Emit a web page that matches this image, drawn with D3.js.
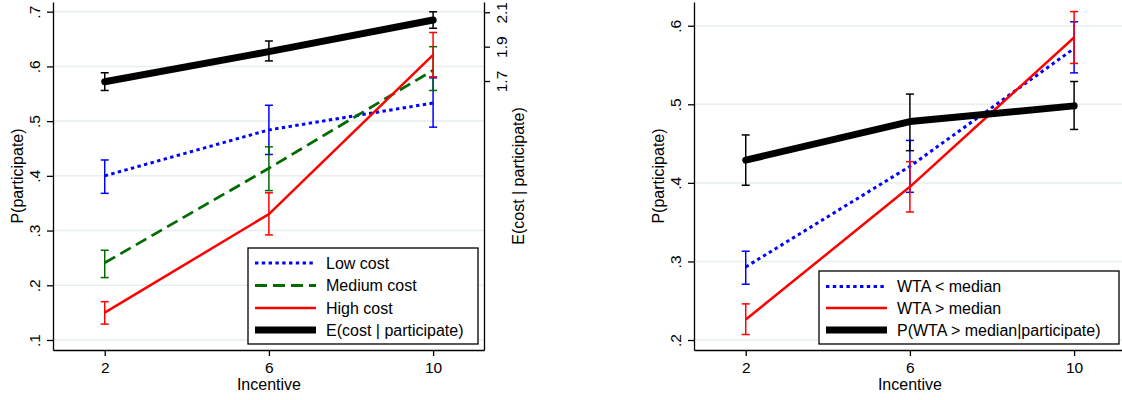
<!DOCTYPE html>
<html>
<head>
<meta charset="utf-8">
<script src="https://cdn.jsdelivr.net/npm/d3@7"></script>
<style>
  body { margin: 0; background: #fff; }
  svg { display: block; font-family: "Liberation Sans", Arial, Helvetica, sans-serif; }
  .axis path, .axis line { stroke: #000; stroke-width: 1.3; }
  .axis text { fill: #000; font-size: 15.5px; font-family: "Liberation Sans", Arial, Helvetica, sans-serif; }
</style>
</head>
<body>
<svg id="chart"></svg>
<script>
// x values (incentive)
const incentives = [2, 6, 10]

// left panel: P(participate) by cost group
const lowCostMean = [0.400, 0.484, 0.533]
const lowCostLo   = [0.368, 0.439, 0.489]
const lowCostHi   = [0.429, 0.529, 0.579]
const medCostMean = [0.241, 0.414, 0.593]
const medCostLo   = [0.214, 0.373, 0.556]
const medCostHi   = [0.264, 0.453, 0.636]
const highCostMean = [0.150, 0.330, 0.621]
const highCostLo   = [0.129, 0.292, 0.581]
const highCostHi   = [0.170, 0.369, 0.662]
// E(cost | participate), right axis
const expCostMean = [1.696, 1.871, 2.055]
const expCostLo   = [1.645, 1.817, 2.007]
const expCostHi   = [1.748, 1.933, 2.103]

// right panel: by WTA
const wtaBelowMean = [0.293, 0.421, 0.571]
const wtaBelowLo   = [0.271, 0.388, 0.540]
const wtaBelowHi   = [0.313, 0.454, 0.605]
const wtaAboveMean = [0.226, 0.395, 0.585]
const wtaAboveLo   = [0.207, 0.363, 0.552]
const wtaAboveHi   = [0.246, 0.427, 0.618]
const pAboveMean = [0.429, 0.478, 0.498]
const pAboveLo   = [0.397, 0.441, 0.468]
const pAboveHi   = [0.461, 0.513, 0.529]

// ticks
const xTicks = [2, 6, 10]
const leftYTicks = [0.1, 0.2, 0.3, 0.4, 0.5, 0.6, 0.7]
const costTicks = [1.7, 1.9, 2.1]
const wtaYTicks = [0.2, 0.3, 0.4, 0.5, 0.6]

const legendLeft = ['Low cost', 'Medium cost', 'High cost', 'E(cost | participate)']
const legendRight = ['WTA < median', 'WTA > median', 'P(WTA > median|participate)']

const W = 1122, H = 400
const svg = d3.select('#chart').attr('width', W).attr('height', H)
svg.append('rect').attr('width', W).attr('height', H).attr('fill', '#fff')

const plotTop = 2, plotBottom = 350
const fmtP = d => d3.format('.1f')(d).replace(/^0\./, '.')

const styles = {
  blue:  { color: '#0000ff', width: 3, dash: '3.4,3.4', cap: 'butt' },
  green: { color: '#006b00', width: 2.8, dash: '12,6', cap: 'butt' },
  red:   { color: '#ff0000', width: 2.5, dash: null, cap: 'butt' },
  black: { color: '#000000', width: 7, dash: null, cap: 'round' }
}

function zip(mean, lo, hi) {
  return incentives.map((x, i) => ({ x: x, m: mean[i], lo: lo[i], hi: hi[i] }))
}

function drawSeries(g, x, y, data, st) {
  g.append('path')
    .datum(data)
    .attr('fill', 'none')
    .attr('stroke', st.color)
    .attr('stroke-width', st.width)
    .attr('stroke-dasharray', st.dash)
    .attr('stroke-linecap', st.cap)
    .attr('stroke-linejoin', 'round')
    .attr('d', d3.line().x(d => x(d.x)).y(d => y(d.m)))

  const bars = g.append('g').attr('stroke', st.color).attr('stroke-width', 1.5)
  data.forEach(d => {
    bars.append('line').attr('x1', x(d.x)).attr('x2', x(d.x)).attr('y1', y(d.lo)).attr('y2', y(d.hi))
    bars.append('line').attr('x1', x(d.x) - 4).attr('x2', x(d.x) + 4).attr('y1', y(d.lo)).attr('y2', y(d.lo))
    bars.append('line').attr('x1', x(d.x) - 4).attr('x2', x(d.x) + 4).attr('y1', y(d.hi)).attr('y2', y(d.hi))
  })
}

function grid(g, x, y, ticks) {
  g.append('g').selectAll('line').data(ticks).join('line')
    .attr('x1', x.range()[0]).attr('x2', x.range()[1])
    .attr('y1', d => y(d)).attr('y2', d => y(d))
    .attr('stroke', '#e6eef1').attr('stroke-width', 1.5)
}

function leftAxis(g, x, y, ticks) {
  const ax = g.append('g').attr('class', 'axis')
    .attr('transform', 'translate(' + x.range()[0] + ',0)')
    .call(d3.axisLeft(y).tickValues(ticks).tickFormat(fmtP).tickSize(6).tickSizeOuter(0))
  ax.selectAll('text')
    .attr('x', 0).attr('y', -13).attr('dy', 0)
    .attr('text-anchor', 'middle').attr('transform', 'rotate(-90)')
}

function bottomAxis(g, x) {
  g.append('g').attr('class', 'axis')
    .attr('transform', 'translate(0,' + plotBottom + ')')
    .call(d3.axisBottom(x).tickValues(xTicks).tickSize(6).tickPadding(6).tickSizeOuter(0))
}

function title(g, text, tx, ty, rot) {
  g.append('text')
    .attr('transform', 'translate(' + tx + ',' + ty + ')' + (rot ? ' rotate(-90)' : ''))
    .attr('text-anchor', 'middle')
    .attr('font-size', 16)
    .text(text)
}

function legend(g, box, rows, labels, sts) {
  g.append('rect')
    .attr('x', box.x).attr('y', box.y).attr('width', box.w).attr('height', box.h)
    .attr('fill', '#fff').attr('stroke', '#000').attr('stroke-width', 1.3)
  labels.forEach((lab, i) => {
    const st = sts[i]
    g.append('line')
      .attr('x1', box.x + 7).attr('x2', box.x + 68)
      .attr('y1', rows[i]).attr('y2', rows[i])
      .attr('stroke', st.color).attr('stroke-width', st.width)
      .attr('stroke-dasharray', st.dash)
    g.append('text')
      .attr('x', box.x + 78).attr('y', rows[i]).attr('dy', '0.36em')
      .attr('font-size', 16)
      .text(lab)
  })
}

// ---- left panel ----
const gL = svg.append('g')
const xL = d3.scaleLinear().domain([0.74, 11.24]).range([53, 484])
const yL = d3.scaleLinear().domain([0.0817, 0.7177]).range([plotBottom, plotTop])
const yCost = d3.scaleLinear().domain([0.134, 2.160]).range([plotBottom, plotTop])

grid(gL, xL, yL, leftYTicks)
drawSeries(gL, xL, yL, zip(lowCostMean, lowCostLo, lowCostHi), styles.blue)
drawSeries(gL, xL, yL, zip(medCostMean, medCostLo, medCostHi), styles.green)
drawSeries(gL, xL, yL, zip(highCostMean, highCostLo, highCostHi), styles.red)
drawSeries(gL, xL, yCost, zip(expCostMean, expCostLo, expCostHi), styles.black)

leftAxis(gL, xL, yL, leftYTicks)
const axR = gL.append('g').attr('class', 'axis')
  .attr('transform', 'translate(' + xL.range()[1] + ',0)')
  .call(d3.axisRight(yCost).tickValues(costTicks).tickFormat(d3.format('.1f')).tickSize(6).tickSizeOuter(0))
axR.selectAll('text')
  .attr('x', 0).attr('y', 23).attr('dy', 0)
  .attr('text-anchor', 'middle').attr('transform', 'rotate(-90)')
bottomAxis(gL, xL)

title(gL, 'P(participate)', 23, 176, true)
title(gL, 'E(cost | participate)', 524, 176, true)
title(gL, 'Incentive', xL(6), 390, false)

legend(gL, { x: 248, y: 248, w: 230, h: 96 }, [263, 285.5, 308, 330], legendLeft,
  [styles.blue, styles.green, styles.red, styles.black])

// ---- right panel ----
const gR = svg.append('g')
const xR = d3.scaleLinear().domain([0.74, 11.24]).range([694, 1125])
const yR = d3.scaleLinear().domain([0.1873, 0.6302]).range([plotBottom, plotTop])

grid(gR, xR, yR, wtaYTicks)
drawSeries(gR, xR, yR, zip(wtaBelowMean, wtaBelowLo, wtaBelowHi), styles.blue)
drawSeries(gR, xR, yR, zip(wtaAboveMean, wtaAboveLo, wtaAboveHi), styles.red)
drawSeries(gR, xR, yR, zip(pAboveMean, pAboveLo, pAboveHi), styles.black)

leftAxis(gR, xR, yR, wtaYTicks)
bottomAxis(gR, xR)

title(gR, 'P(participate)', 664, 176, true)
title(gR, 'Incentive', xR(6), 390, false)

legend(gR, { x: 819, y: 271, w: 300, h: 73 }, [286.5, 308, 330], legendRight,
  [styles.blue, styles.red, styles.black])
</script>
</body>
</html>
